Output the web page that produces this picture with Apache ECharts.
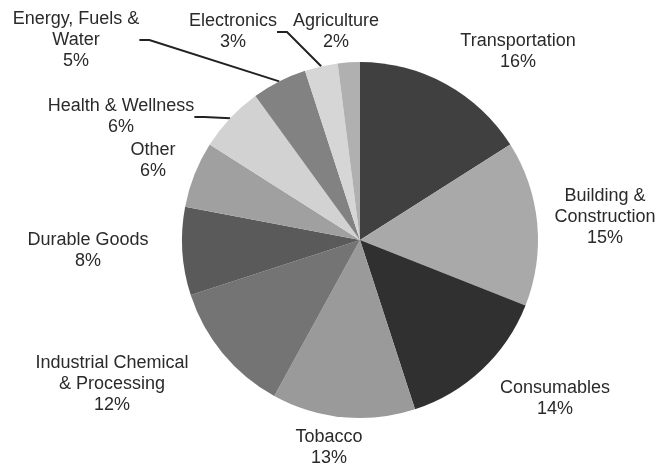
<!DOCTYPE html>
<html>
<head>
<meta charset="utf-8">
<script src="https://cdn.jsdelivr.net/npm/echarts@6/dist/echarts.min.js"></script>
<style>html,body{margin:0;padding:0;background:#fff}#c{width:659px;height:469px}</style>
</head>
<body>
<div id="c"></div>
<script>
const categories = ["Transportation", "Building &\nConstruction", "Consumables", "Tobacco", "Industrial Chemical\n& Processing", "Durable Goods", "Other", "Health & Wellness", "Energy, Fuels &\nWater", "Electronics", "Agriculture"];
const values = [16, 15, 14, 13, 12, 8, 6, 6, 5, 3, 2];
const colors = ["#404040", "#a9a9a9", "#303030", "#9a9a9a", "#747474", "#5a5a5a", "#a0a0a0", "#d2d2d2", "#828282", "#d6d6d6", "#b0b0b0"];
const showLine = [false, false, false, false, false, false, false, true, true, true, false];
const labelPos = [[518, 52], [605, 217], [555, 399], [329, 448], [112, 384], [88, 251], [153, 161], [121, 117], [76, 40], [233, 32], [336, 32]];

const chart = echarts.init(document.getElementById('c'), null, {renderer: 'canvas'});
chart.setOption({
  animation: false,
  backgroundColor: '#fff',
  series: [{
    type: 'pie',
    center: [360, 240],
    radius: 178,
    startAngle: 90,
    clockwise: true,
    avoidLabelOverlap: false,
    data: categories.map((n, i) => ({
      name: n, value: values[i],
      itemStyle: {color: colors[i]},
      labelLine: {show: showLine[i]}
    })),
    label: {
      show: true,
      position: 'outside',
      formatter: '{b}\n{c}%',
      fontFamily: 'Liberation Sans, Arial, sans-serif',
      fontSize: 18,
      lineHeight: 21,
      color: '#2a2a2a',
      align: 'center'
    },
    labelLine: {lineStyle: {color: '#222', width: 2}, length: 10, length2: 10},
    labelLayout: function (p) {
      const pos = labelPos[p.dataIndex];
      return {x: pos[0], y: pos[1], align: 'center', verticalAlign: 'middle'};
    },
    emphasis: {disabled: true}
  }]
});
</script>
</body>
</html>
